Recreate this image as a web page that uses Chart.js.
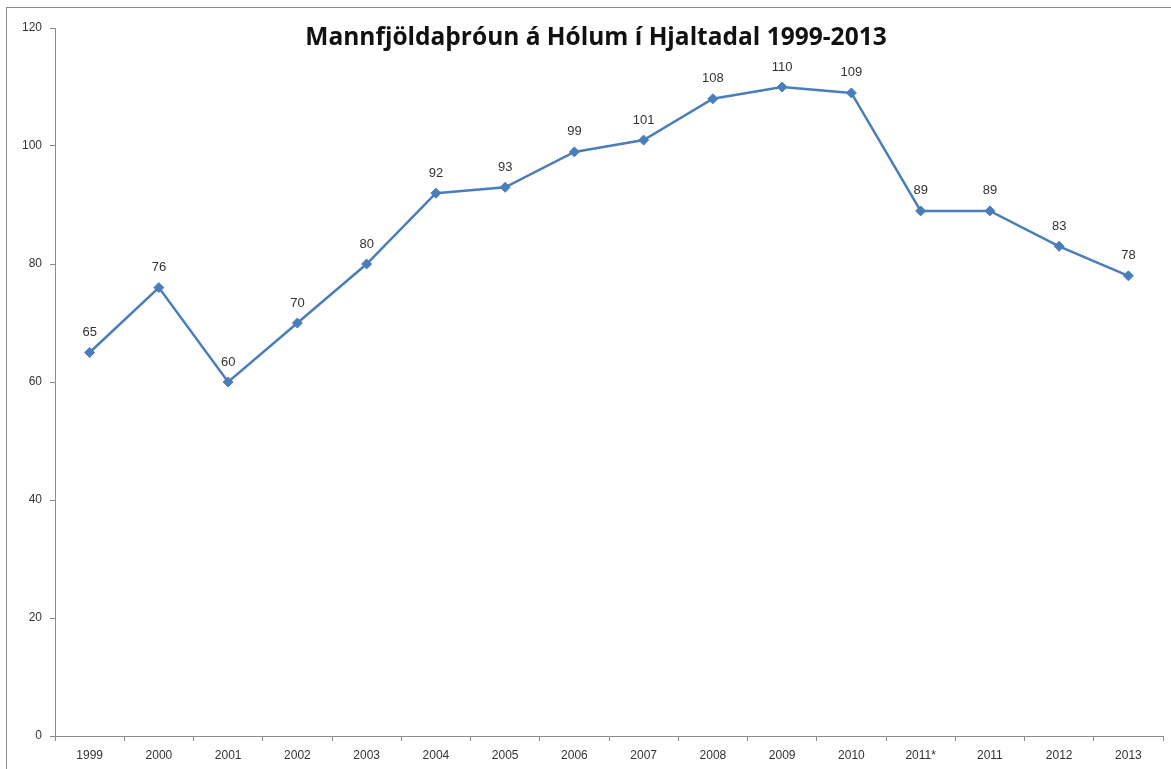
<!DOCTYPE html>
<html>
<head>
<meta charset="utf-8">
<script src="https://cdn.jsdelivr.net/npm/chart.js@4/dist/chart.umd.min.js"></script>
<style>
  html, body { margin: 0; padding: 0; background: #fff; overflow: hidden; }
  #frame {
    position: absolute; left: 6px; top: 7px;
    width: 1178px; height: 775px;
    border: 1px solid #8c8c8c;
    background: #fff;
  }
  #chartTitle {
    position: absolute; left: 0; top: 11px; width: 100%;
    text-align: center;
    font-family: 'Open Sans', sans-serif; font-weight: 700; font-size: 24.5px;
    color: #111; z-index: 2; pointer-events: none;
  }
  canvas { position: absolute; left: 0; top: 0; }
</style>
</head>
<body>
<div id="frame">
  <div id="chartTitle">Mannfjöldaþróun á Hólum í Hjaltadal 1999-2013</div>
  <canvas id="popChart" width="1178" height="775"></canvas>
</div>
<script>
// gögn
const years = ['1999', '2000', '2001', '2002', '2003', '2004', '2005', '2006',
               '2007', '2008', '2009', '2010', '2011*', '2011', '2012', '2013'];
const population = [65, 76, 60, 70, 80, 92, 93, 99, 101, 108, 110, 109, 89, 89, 83, 78];
const yTicks = [0, 20, 40, 60, 80, 100, 120];

const lineBlue = '#4a7ebb';
const axisGray = '#8a8a8a';

// tölur fyrir ofan punkta
const pointLabels = {
    id: 'pointLabels',
    afterDatasetsDraw(chart) {
        const ctx = chart.ctx;
        const meta = chart.getDatasetMeta(0);
        ctx.save();
        ctx.font = "13px 'Liberation Sans', sans-serif";
        ctx.fillStyle = '#333';
        ctx.textAlign = 'center';
        ctx.textBaseline = 'middle';
        meta.data.forEach((pt, i) => {
            ctx.fillText(String(population[i]), pt.x, pt.y - 20);
        });
        ctx.restore();
    }
};

new Chart(document.getElementById('popChart'), {
    type: 'line',
    data: {
        labels: years,
        datasets: [{
            data: population,
            borderColor: lineBlue,
            backgroundColor: lineBlue,
            borderWidth: 2.5,
            pointStyle: 'rectRot',
            pointRadius: 5,
            pointBorderWidth: 1,
            tension: 0
        }]
    },
    options: {
        responsive: false,
        animation: false,
        layout: { padding: { top: 20, right: 22, left: 0, bottom: 0 } },
        plugins: {
            legend: { display: false },
            title: { display: false },
            tooltip: { enabled: false }
        },
        scales: {
            x: {
                offset: true,
                afterFit(s) { s.height = 47; },
                grid: {
                    offset: true,
                    drawOnChartArea: false,
                    drawTicks: true,
                    tickLength: 5,
                    color: axisGray
                },
                border: { color: axisGray, width: 1 },
                ticks: {
                    color: '#333',
                    padding: 7,
                    maxRotation: 0,
                    autoSkip: false,
                    font: { family: "'Liberation Sans', sans-serif", size: 12 }
                }
            },
            y: {
                min: 0,
                max: 120,
                afterFit(s) { s.width = 48; },
                afterBuildTicks(s) { s.ticks = yTicks.map(v => ({ value: v })); },
                grid: {
                    drawOnChartArea: false,
                    drawTicks: true,
                    tickLength: 5,
                    color: axisGray
                },
                border: { color: axisGray, width: 1 },
                ticks: {
                    color: '#333',
                    padding: 8,
                    font: { family: "'Liberation Sans', sans-serif", size: 12 }
                }
            }
        }
    },
    plugins: [pointLabels]
});
</script>
</body>
</html>
